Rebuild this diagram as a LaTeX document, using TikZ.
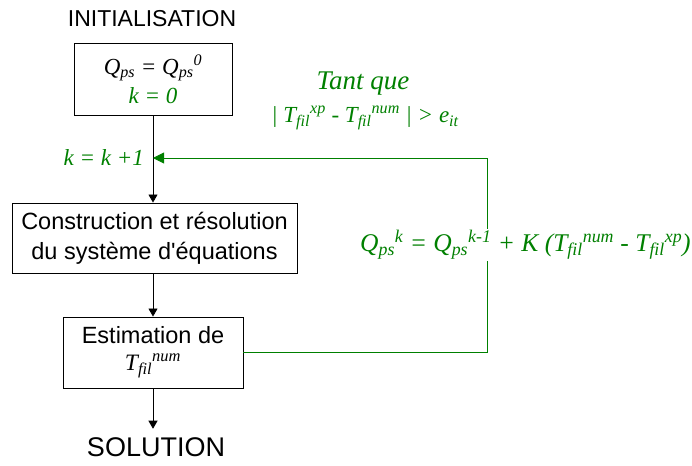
\documentclass[tikz,border=0pt]{standalone}
\usepackage{fontspec}
\setmainfont{Liberation Serif}
\setsansfont{Liberation Sans}
\usetikzlibrary{arrows.meta,positioning}

\definecolor{loopgreen}{RGB}{0,128,0}
\newcommand{\Qps}{Q\textsubscript{ps}}
\newcommand{\Tfil}{T\textsubscript{fil}}

\tikzset{
  stagebox/.style={draw, line width=0.9pt, fill=white, align=center,
    inner sep=0pt, font=\sffamily\fontsize{23.5}{30}\selectfont},
  title/.style={font=\sffamily\fontsize{23}{28}\selectfont, inner sep=0pt},
  formula/.style={font=\itshape\fontsize{23}{28}\selectfont, inner sep=1pt},
  flow/.style={-{Triangle[length=8pt,width=9pt]}, line width=0.8pt},
  feedback/.style={-{Triangle[length=11pt,width=11pt]}, line width=0.9pt, draw=loopgreen},
}

\begin{document}
\begin{tikzpicture}[x=1pt, y=-1pt]
\useasboundingbox (0,0) rectangle (692,465);

% ------------------------------------------------------------
% main flow
% ------------------------------------------------------------
\node[title] (init) at (152,18.5) {INITIALISATION};

\node[stagebox, minimum width=158, minimum height=72,
      font=\itshape\fontsize{23}{29}\selectfont] (start) at (153,79)
  {\Qps\ = \Qps\textsuperscript{0}\\ \textcolor{loopgreen}{k = 0}};

\node[stagebox, minimum width=285, minimum height=70] (solve) at (154.5,238)
  {Construction et résolution\\ du système d\textquotesingle équations};

\node[stagebox, minimum width=180, minimum height=71,
      font=\sffamily\fontsize{23.5}{27}\selectfont] (estim) at (153,352.5)
  {Estimation de\\ {\rmfamily\itshape \Tfil\textsuperscript{num}}};

\node[title, font=\sffamily\fontsize{27}{30}\selectfont, inner ysep=9pt]
  (sol) at (156,447.5) {SOLUTION};

\draw[flow] (start.south -| estim.north) -- (solve.north -| estim.north);
\draw[flow] (solve.south -| estim.north) -- (estim.north);
\draw[flow] (estim.south) -- (estim.south |- sol.north);

% ------------------------------------------------------------
% iteration loop
% ------------------------------------------------------------
\coordinate (turn) at (487,158);
\coordinate (join) at (estim.north |- turn);

\node[formula, text=loopgreen, anchor=east] (incr) at (145,158) {k = k +1};

\draw[feedback] (estim.east) -| (turn) -- (join);

\node[formula, text=loopgreen, font=\itshape\fontsize{27}{30}\selectfont]
  (tant) at (363,84) {Tant que};
\node[formula, text=loopgreen] (cond) at (365,118)
  {| \Tfil\textsuperscript{xp} - \Tfil\textsuperscript{num} | > e\textsubscript{it}};

\node[formula, text=loopgreen, fill=white, anchor=west,
      font=\itshape\fontsize{25.5}{30}\selectfont] (update) at (359,245)
  {\Qps\textsuperscript{k} = \Qps\textsuperscript{k-1} + K (\Tfil\textsuperscript{num} - \Tfil\textsuperscript{xp})};

\end{tikzpicture}
\end{document}
